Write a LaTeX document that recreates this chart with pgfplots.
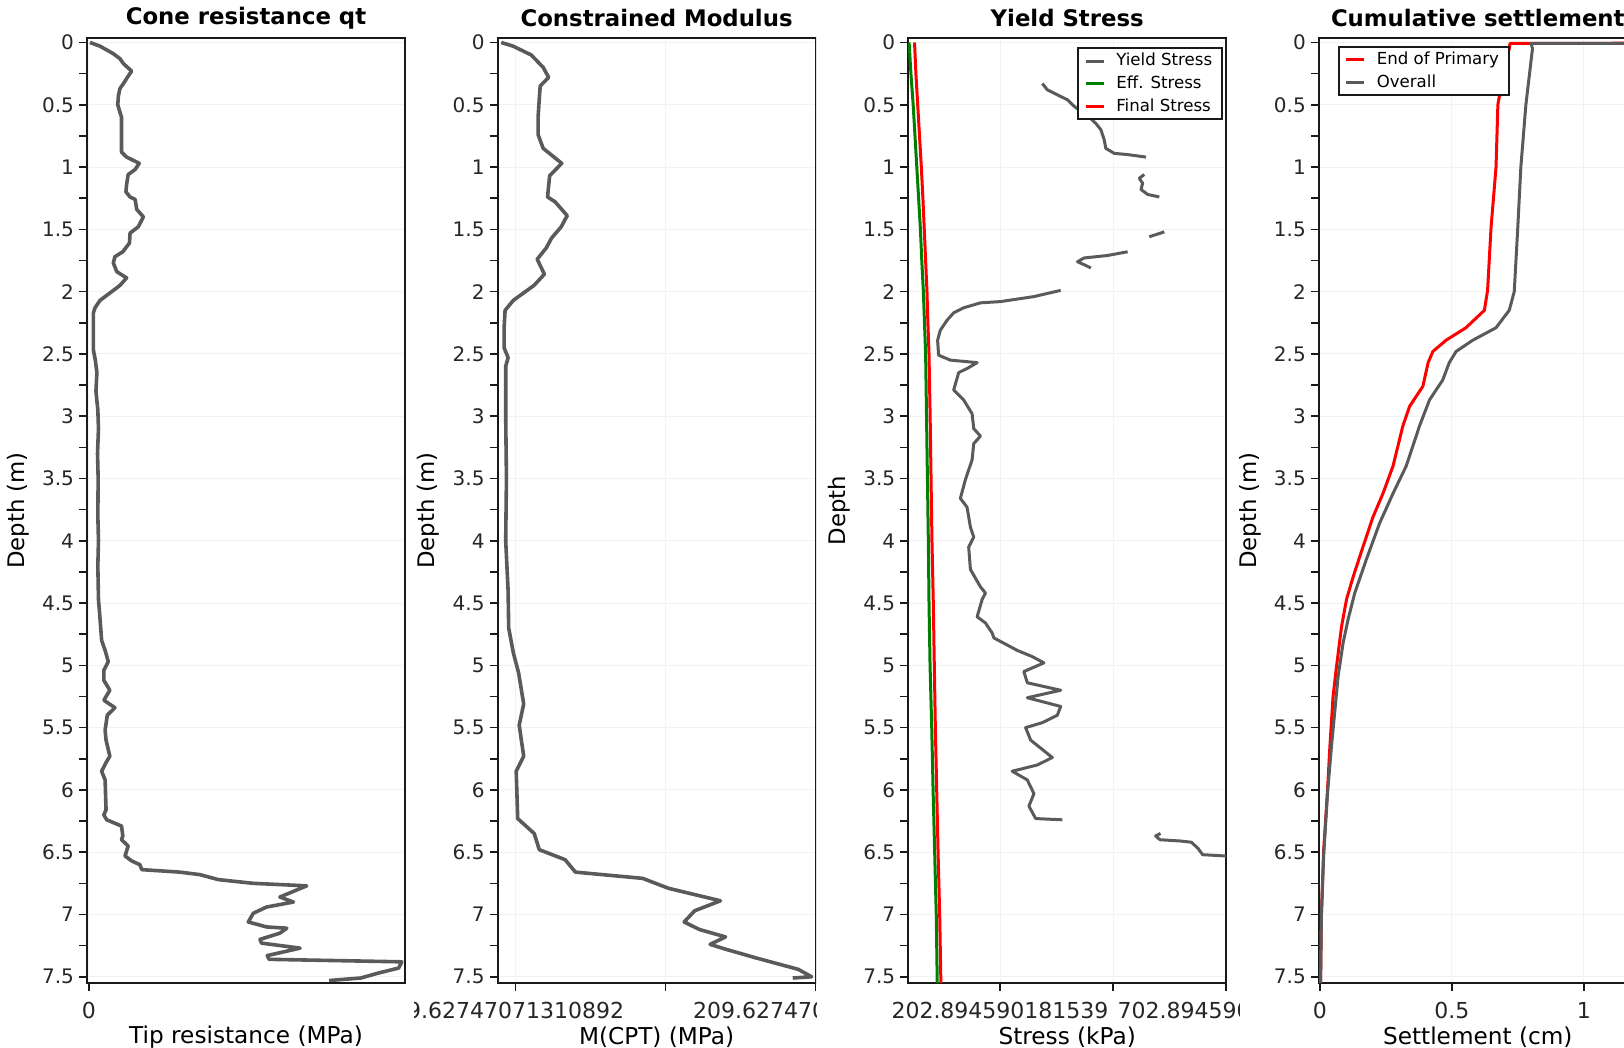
\documentclass[border=0pt]{standalone}
\usepackage{fontspec}
\setmainfont{DejaVu Sans}
\usepackage{pgfplots}
\pgfplotsset{compat=1.18}
\definecolor{lgray}{RGB}{90,90,90}
\definecolor{lred}{RGB}{255,0,0}
\definecolor{lgreen}{RGB}{0,128,0}
\definecolor{axc}{RGB}{25,25,25}

\pgfplotsset{
  panel/.style={
    scale only axis, width=159pt, height=472.5pt, anchor=south west,
    y dir=reverse, ymin=-0.036, ymax=7.55,
    ytick={0,0.5,1,1.5,2,2.5,3,3.5,4,4.5,5,5.5,6,6.5,7,7.5},
    minor y tick num=1,
    xtick pos=bottom, ytick pos=left,
    tick align=outside, major tick length=4pt, minor tick length=4pt,
    axis line style={axc, line width=1pt},
    every tick/.style={axc, line width=0.8pt},
    grid=major, grid style={black!5, line width=0.5pt},
    /pgf/number format/assume math mode=true,
    xticklabel style={font=\fontsize{11}{12}\selectfont, color=black!85},
    yticklabel style={font=\fontsize{10}{12}\selectfont, color=black!85},
    yticklabel shift=-1pt, xticklabel shift=2.2pt,
    every axis title/.style={font=\bfseries\fontsize{11.4}{13}\selectfont,
      at={(axis description cs:0.5,1.021)}, anchor=center},
    every axis y label/.style={font=\fontsize{11.4}{13}\selectfont,
      at={(axis description cs:-0.217,0.5)}, rotate=90, anchor=center},
    every axis x label/.style={font=\fontsize{11.6}{13}\selectfont,
      at={(axis description cs:0.5,-0.057)}, anchor=center},
    legend style={draw=axc, line width=0.9pt, fill=white,
      font=\fontsize{8.3}{10}\selectfont, inner xsep=3pt, inner ysep=0.5pt,
      row sep=-0.5pt, legend cell align=left},
    legend image code/.code={\draw[#1, line width=1.5pt] (0pt,0pt) -- (9pt,0pt);
      \path (12.5pt,0pt);},
  },
  prof/.style={lgray, line width=1.8pt, line join=round},
  thin prof/.style={line width=1.5pt, line join=round},
}

\begin{document}
\begin{tikzpicture}

% ---- panel 1: cone resistance
\begin{scope}
\clip (0pt,0pt) rectangle (207pt,524pt);
\begin{axis}[panel, at={(43.5pt,32.5pt)},
  title={Cone resistance qt}, xlabel={Tip resistance (MPa)}, ylabel={Depth (m)},
  xmin=-0.063, xmax=10, xtick={0}]
\addplot[prof] coordinates {
(0.03,0.00) (0.35,0.03) (0.77,0.09) (0.98,0.13) (1.09,0.17) (1.35,0.23)
(1.24,0.27) (1.09,0.33) (0.98,0.37) (0.93,0.43) (0.91,0.50) (0.98,0.56)
(1.03,0.60) (1.03,0.88) (1.19,0.92) (1.59,0.97) (1.46,1.02) (1.24,1.06)
(1.19,1.14) (1.17,1.20) (1.30,1.24) (1.46,1.26) (1.51,1.34) (1.72,1.40)
(1.56,1.48) (1.30,1.53) (1.28,1.61) (1.07,1.68) (0.82,1.72) (0.77,1.77)
(0.88,1.84) (1.19,1.89) (0.98,1.95) (0.72,2.00) (0.35,2.07) (0.19,2.13)
(0.14,2.17) (0.14,2.47) (0.20,2.55) (0.25,2.65) (0.22,2.80) (0.28,2.95)
(0.30,3.10) (0.27,3.30) (0.29,3.50) (0.28,3.80) (0.30,4.00) (0.28,4.20)
(0.30,4.47) (0.35,4.63) (0.40,4.80) (0.51,4.88) (0.61,4.97) (0.47,5.04)
(0.47,5.12) (0.66,5.20) (0.47,5.28) (0.82,5.34) (0.58,5.40) (0.51,5.52)
(0.54,5.60) (0.66,5.73) (0.54,5.78) (0.40,5.85) (0.51,5.92) (0.54,6.16)
(0.47,6.20) (0.56,6.24) (1.03,6.29) (1.07,6.37) (1.03,6.40) (1.24,6.45)
(1.14,6.53) (1.35,6.57) (1.61,6.60) (1.67,6.64) (2.88,6.66) (3.51,6.68)
(4.09,6.72) (5.20,6.75) (6.89,6.77) (6.04,6.86) (6.47,6.90) (5.62,6.94)
(5.20,6.99) (5.04,7.06) (5.62,7.10) (6.26,7.11) (6.04,7.15) (5.41,7.20)
(5.46,7.23) (6.68,7.27) (5.64,7.33) (5.70,7.36) (9.90,7.38) (9.80,7.43)
(9.16,7.47) (8.60,7.51) (7.60,7.53)
};
\end{axis}
\end{scope}

% ---- panel 2: constrained modulus
\begin{scope}
\clip (207pt,0pt) rectangle (408pt,524pt);
\begin{axis}[panel, at={(248.8pt,32.5pt)},
  title={Constrained Modulus}, xlabel={M(CPT) (MPa)}, ylabel={Depth (m)},
  xmin=-2.4, xmax=209.63,
  xtick={9.62747071310892,109.62747071310892,209.62747071310892},
  xticklabels={9.62747071310892,,209.62747071310892}]
\addplot[prof] coordinates {
(0,0.00) (8,0.03) (20,0.10) (28,0.20) (31.6,0.28) (26,0.35) (25.4,0.45)
(24.6,0.60) (24.6,0.74) (28,0.85) (40.4,0.97) (32.3,1.07) (30.9,1.24)
(36,1.28) (44,1.39) (40,1.48) (33.6,1.57) (30,1.65) (24,1.74) (28.8,1.86)
(21.9,1.95) (8.1,2.07) (2.6,2.15) (1.9,2.30) (1.9,2.45) (4.6,2.53) (3,2.60)
(3,3.00) (3.5,3.50) (3,4.00) (4.6,4.40) (5,4.70) (8.1,4.90) (11.6,5.06)
(15,5.31) (12,5.48) (15,5.73) (10,5.85) (11,6.23) (22,6.35) (25.4,6.48)
(42.6,6.56) (49.5,6.66) (94.3,6.71) (111.6,6.79) (146.2,6.89) (129,6.97)
(122,7.06) (132,7.12) (149.6,7.18) (139.3,7.24) (150,7.28) (170.3,7.35)
(198,7.44) (207,7.50) (194.4,7.51)
};
\end{axis}
\end{scope}

% ---- panel 3: yield stress
\begin{scope}
\clip (408pt,0pt) rectangle (619.5pt,524pt);
\begin{axis}[panel, at={(454.1pt,32.5pt)},
  title={Yield Stress}, xlabel={Stress (kPa)}, ylabel={Depth},
  xmin=0, xmax=702.894590181539,
  xtick={202.894590181539,452.894590181539,702.894590181539},
  xticklabels={202.894590181539,,702.894590181539},
  legend style={at={(0.99,0.99)}, anchor=north east}]
\addplot[lgray, thin prof] coordinates {
(296.5,0.33) (307.5,0.38) (329.7,0.42) (352,0.46) (362.9,0.50) (383.6,0.56)
(403.4,0.61) (414.7,0.65) (425.8,0.70) (433.1,0.78) (436.8,0.85) (455.3,0.89)
(485,0.90) (525.5,0.92)};
\addlegendentry{Yield Stress}
\addplot[lgray, thin prof, forget plot] coordinates {
(521.8,1.06) (510.7,1.09) (518.1,1.13) (514.5,1.18) (529.3,1.22) (555,1.24)};
\addplot[lgray, thin prof, forget plot] coordinates {
(532.9,1.56) (566.1,1.52)};
\addplot[lgray, thin prof, forget plot] coordinates {
(485,1.68) (440.6,1.71) (388.8,1.73) (374.1,1.76) (392.5,1.79) (403.6,1.81)};
\addplot[lgray, thin prof, forget plot] coordinates {
(337.0,1.99) (277.9,2.04) (204,2.08) (159.7,2.09) (122.6,2.13) (100.5,2.17)
(85.8,2.23) (71,2.31) (65,2.39) (67.2,2.51) (93.1,2.55) (152.4,2.57)
(133.7,2.61) (111.6,2.65) (100.5,2.79) (122.6,2.87) (141.2,2.98) (144.9,3.10)
(159.7,3.16) (144.9,3.22) (141.2,3.35) (126.4,3.51) (115.3,3.66) (130.0,3.73)
(137.5,3.89) (144.9,3.97) (133.7,4.05) (137.5,4.23) (159.7,4.37) (170.8,4.42)
(163.5,4.47) (152.4,4.61) (170.8,4.66) (185.6,4.74) (189.4,4.78) (241,4.88)
(274.3,4.93) (300.1,4.98) (255.6,5.05) (263.3,5.14) (337,5.20) (263.3,5.26)
(337,5.33) (329.7,5.40) (296.5,5.46) (259.5,5.50) (270.6,5.60) (318.6,5.74)
(285.4,5.80) (229.9,5.85) (263.3,5.92) (277.9,6.03) (266.8,6.13) (281.7,6.23)
(340.8,6.24)};
\addplot[lgray, thin prof, forget plot] coordinates {
(557.7,6.35) (546.8,6.37) (556.7,6.40) (601.2,6.41) (625.9,6.42) (640.8,6.47)
(650.7,6.52) (700.1,6.53) (729.8,6.53)};
\addplot[lgreen, thin prof] coordinates {
(2,0) (6,0.25) (11,0.5) (15,0.75) (19,1.0) (23,1.25) (27,1.5) (30,1.75)
(33.5,2.0) (36,2.25) (38.5,2.5) (40.5,3.0) (42.5,3.5) (44.5,4.0) (46,4.5)
(48.3,5.0) (52,5.5) (55,6.0) (58.5,6.5) (62,7.0) (64,7.5) (64,7.55)};
\addlegendentry{Eff. Stress}
\addplot[lred, thin prof] coordinates {
(14,0) (17,0.25) (21,0.5) (25,0.75) (29,1.0) (32.5,1.25) (35.5,1.5) (38.5,1.75)
(41.5,2.0) (43.5,2.25) (46,2.5) (48.5,3.0) (50.5,3.5) (52.5,4.0) (55.5,4.5)
(57.7,5.0) (60,5.5) (63,6.0) (66,6.5) (69.6,7.0) (72,7.5) (72,7.55)};
\addlegendentry{Final Stress}
\end{axis}
\end{scope}

% ---- panel 4: cumulative settlement
\begin{scope}
\clip (619.5pt,0pt) rectangle (821.2pt,524pt);
\begin{axis}[panel, at={(659.4pt,32.5pt)},
  title={Cumulative settlement}, xlabel={Settlement (cm)}, ylabel={Depth (m)},
  xmin=-0.004, xmax=1.2, xtick={0,0.5,1},
  legend style={at={(0.06,0.9915)}, anchor=north west}]
\addplot[lred, thin prof] coordinates {
(2.5,0.0) (0.72,0.008) (0.717,0.05) (0.69,0.3) (0.674,0.5) (0.667,1.0)
(0.648,1.49) (0.635,1.99) (0.623,2.15) (0.553,2.29) (0.478,2.39) (0.428,2.48)
(0.41,2.57) (0.39,2.76) (0.34,2.92) (0.314,3.08) (0.277,3.40) (0.239,3.62)
(0.201,3.81) (0.163,4.05) (0.126,4.29) (0.101,4.47) (0.082,4.69) (0.063,5.01)
(0.05,5.25) (0.038,5.65) (0.029,6.0) (0.014,6.5) (0.006,7.0) (0.003,7.5)
(0.003,7.55)};
\addlegendentry{End of Primary}
\addplot[lgray, thin prof] coordinates {
(2.5,0.0) (0.80,0.008) (0.805,0.05) (0.78,0.5) (0.761,1.0) (0.749,1.5)
(0.736,2.0) (0.717,2.15) (0.667,2.29) (0.579,2.39) (0.516,2.48) (0.49,2.57)
(0.465,2.71) (0.415,2.87) (0.377,3.08) (0.327,3.40) (0.277,3.62) (0.226,3.86)
(0.176,4.15) (0.132,4.42) (0.107,4.63) (0.088,4.82) (0.069,5.09) (0.057,5.36)
(0.044,5.65) (0.03,6.0) (0.015,6.5) (0.006,7.0) (0.003,7.5) (0.003,7.55)};
\addlegendentry{Overall}
\end{axis}
\end{scope}

\pgfresetboundingbox
\useasboundingbox (0pt,0pt) rectangle (812pt,524pt);
\end{tikzpicture}
\end{document}
